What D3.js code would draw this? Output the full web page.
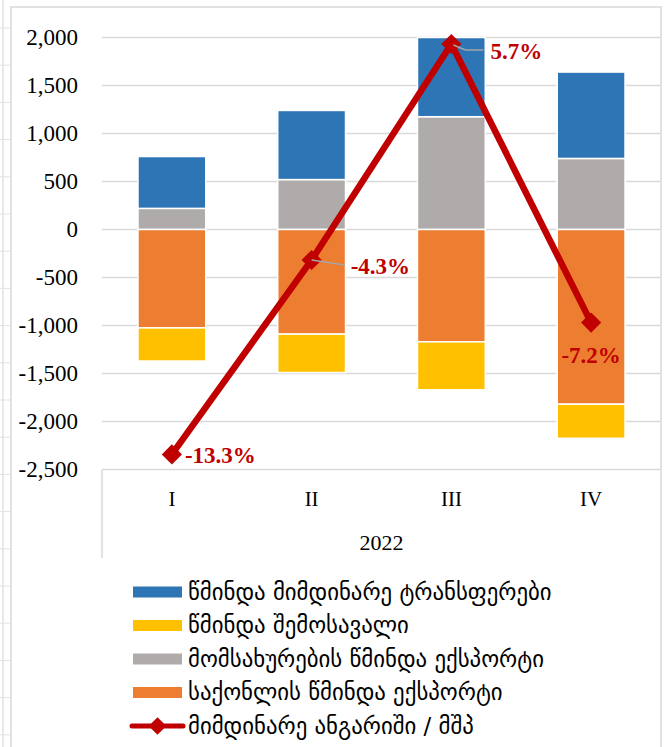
<!DOCTYPE html>
<html><head><meta charset="utf-8">
<script src="https://cdn.jsdelivr.net/npm/d3@7"></script>
<style>html,body{margin:0;padding:0;background:#fff;}svg{display:block;}</style>
</head><body>
<svg id="c" width="664" height="747"></svg>
<script>
// ---- data ----
const categories = ["I", "II", "III", "IV"];
const groupLabel = "2022";
const goodsNet    = [-1025, -1090, -1170, -1820];   // საქონლის წმინდა ექსპორტი
const incomeNet   = [-345, -400, -500, -355];       // წმინდა შემოსავალი
const servicesNet = [220, 520, 1175, 740];          // მომსახურების წმინდა ექსპორტი
const transfersNet= [540, 720, 825, 900];           // წმინდა მიმდინარე ტრანსფერები
const caToGdp     = [-13.3, -4.3, 5.7, -7.2];       // მიმდინარე ანგარიში / მშპ (%)
const yTicks = [-2500, -2000, -1500, -1000, -500, 0, 500, 1000, 1500, 2000];
const seriesNames = {
  transfers: "წმინდა მიმდინარე ტრანსფერები",
  income: "წმინდა შემოსავალი",
  services: "მომსახურების წმინდა ექსპორტი",
  goods: "საქონლის წმინდა ექსპორტი",
  line: "მიმდინარე ანგარიში / მშპ"
};

const colors = {transfers:"#2E75B6", income:"#FFC000", services:"#AFABAB", goods:"#ED7D31", line:"#C00000"};
const gridColor = "#D9D9D9";

const svg = d3.select("#c");
const L = 102, R = 661, T = 37.5, B = 469.5;

// decorative sheet edge
svg.append("line").attr("x1",3).attr("x2",3).attr("y1",0).attr("y2",747).attr("stroke","#E2E2E2").attr("stroke-width",1.5);
svg.selectAll("line.row").data(d3.range(28, 747, 37.2)).join("line").attr("class","row")
  .attr("x1",0).attr("x2",10).attr("y1",d=>d).attr("y2",d=>d).attr("stroke","#E2E2E2").attr("stroke-width",1);
// chart frame
svg.append("rect").attr("x",11).attr("y",7).attr("width",650).attr("height",760)
  .attr("fill","#fff").attr("stroke","#D9D9D9").attr("stroke-width",1.5);

const x = d3.scaleBand().domain(categories).range([L, R]).paddingInner(0.515).paddingOuter(0.2575);
const y = d3.scaleLinear().domain([-2500, 2000]).range([B, T]);
const y2 = d3.scaleLinear().domain([-14, 6]).range([B, T]);

// gridlines
svg.append("g").selectAll("line").data(yTicks).join("line")
  .attr("x1", L).attr("x2", R).attr("y1", d=>y(d)).attr("y2", d=>y(d))
  .attr("stroke", gridColor).attr("stroke-width", 1.5);

// y axis labels
const yAxis = d3.axisLeft(y).tickValues(yTicks).tickSize(0).tickPadding(0)
  .tickFormat(d3.format(",.0f"));
const ya = svg.append("g").attr("transform", `translate(78,0)`).call(yAxis);
ya.select(".domain").remove();
ya.selectAll("text").attr("font-family","'Liberation Serif', serif").attr("font-size",23).attr("fill","#000")
  .text(d => d3.format(",.0f")(d).replace("−","-"));

// category axis structure
svg.append("line").attr("x1",L).attr("x2",L).attr("y1",B).attr("y2",558).attr("stroke",gridColor).attr("stroke-width",1.5);
const xa = svg.append("g").attr("transform",`translate(0,${B})`).call(d3.axisBottom(x).tickSize(0).tickPadding(0));
xa.select(".domain").remove();
xa.selectAll("text").attr("font-family","'Liberation Serif', serif").attr("font-size",21).attr("fill","#000")
  .attr("dy", null).attr("y", 36);
svg.append("text").attr("x",(L+R)/2).attr("y",550).attr("text-anchor","middle")
  .attr("font-family","'Liberation Serif', serif").attr("font-size",22).text(groupLabel);

// stacked bars
const rows = categories.map((c,i)=>({cat:c, goods:goodsNet[i], income:incomeNet[i], services:servicesNet[i], transfers:transfersNet[i]}));
const posKeys = ["services","transfers"], negKeys = ["goods","income"];
const segs = [];
rows.forEach(r=>{
  let p=0; posKeys.forEach(k=>{segs.push({cat:r.cat,key:k,y0:p,y1:p+r[k]}); p+=r[k];});
  let n=0; negKeys.forEach(k=>{segs.push({cat:r.cat,key:k,y0:n,y1:n+r[k]}); n+=r[k];});
});
svg.append("defs").append("clipPath").attr("id","pc").append("rect").attr("x",L).attr("y",T-0.8).attr("width",R-L).attr("height",B-T+1);
svg.append("g").attr("clip-path","url(#pc)").selectAll("rect").data(segs).join("rect")
  .attr("x", d=>x(d.cat)).attr("width", x.bandwidth())
  .attr("y", d=>y(Math.max(d.y0,d.y1))).attr("height", d=>Math.abs(y(d.y0)-y(d.y1)))
  .attr("fill", d=>colors[d.key]).attr("stroke","#fff").attr("stroke-width",1.5);

// line
const cx = c => x(c) + x.bandwidth()/2;
const pts = categories.map((c,i)=>[cx(c), y2(caToGdp[i])]);
svg.append("path").attr("d", d3.line()(pts)).attr("fill","none").attr("stroke",colors.line)
  .attr("stroke-width",6.5).attr("stroke-linejoin","miter");
const diamond = d3.symbol().type(d3.symbolDiamond2).size(260);
svg.append("g").selectAll("path").data(pts).join("path")
  .attr("transform", d=>`translate(${d[0]},${d[1]})`).attr("d", diamond).attr("fill",colors.line);

// leader lines
const p1 = pts[1], p2 = pts[2];
svg.append("path").attr("d", d3.line()([[p1[0],p1[1]],[p1[0]+33,p1[1]+5]])).attr("fill","none").attr("stroke","#A6A6A6").attr("stroke-width",1.5);
svg.append("path").attr("d", d3.line()([[p2[0]+2,p2[1]+1],[p2[0]+14,p2[1]+6],[p2[0]+32,p2[1]+6]])).attr("fill","none").attr("stroke","#A6A6A6").attr("stroke-width",1.5);

// data labels
const labOff = [[13,1],[39,6],[39,7],[0,32]];
const anchors = ["start","start","start","middle"];
svg.append("g").selectAll("text").data(pts).join("text")
  .attr("x",(d,i)=>d[0]+labOff[i][0]).attr("y",(d,i)=>d[1]+labOff[i][1])
  .attr("dy","0.35em").attr("text-anchor",(d,i)=>anchors[i])
  .attr("font-family","'Liberation Serif', serif").attr("font-weight","bold").attr("font-size",23)
  .attr("fill",colors.line)
  .text((d,i)=>d3.format(".1f")(caToGdp[i]).replace("−","-")+"%");

// legend
const legendItems = ["transfers","income","services","goods","line"];
const lg = svg.append("g");
legendItems.forEach((k,i)=>{
  const yy = 592 + i*33.5;
  if (k==="line") {
    lg.append("line").attr("x1",132).attr("x2",183).attr("y1",yy).attr("y2",yy)
      .attr("stroke",colors.line).attr("stroke-width",5).attr("stroke-linecap","round");
    lg.append("path").attr("transform",`translate(157.5,${yy})`).attr("d",d3.symbol().type(d3.symbolDiamond2).size(200)).attr("fill",colors.line);
  } else {
    lg.append("rect").attr("x",133).attr("y",yy-5.5).attr("width",49).attr("height",11).attr("fill",colors[k]);
  }
  lg.append("text").attr("x",188).attr("y",yy).attr("dy","0.35em")
    .attr("font-family","'DejaVu Sans', sans-serif").attr("font-size",22.8).attr("fill","#000")
    .text(seriesNames[k]);
});
</script>
</body></html>
